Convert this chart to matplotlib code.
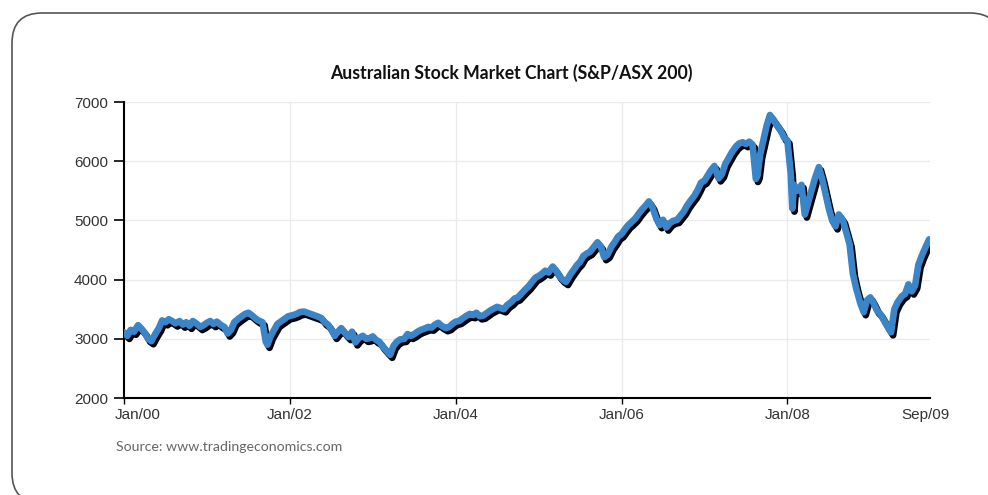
import matplotlib
matplotlib.use("Agg")
import matplotlib.pyplot as plt
import matplotlib.patheffects as pe
from matplotlib.patches import FancyBboxPatch
from matplotlib.transforms import ScaledTranslation

# ---- data (decimal year, index level) ----
years = [
    2000.00, 2000.04, 2000.08, 2000.12, 2000.17, 2000.21, 2000.25, 2000.29, 2000.33, 2000.38,
    2000.42, 2000.46, 2000.50, 2000.54, 2000.58, 2000.62, 2000.67, 2000.71, 2000.75, 2000.79,
    2000.83, 2000.88, 2000.92, 2000.96, 2001.00, 2001.04, 2001.08, 2001.12, 2001.17, 2001.21,
    2001.25, 2001.29, 2001.33, 2001.38, 2001.42, 2001.46, 2001.50, 2001.54, 2001.58, 2001.62,
    2001.67, 2001.71, 2001.73, 2001.77, 2001.81, 2001.85, 2001.90, 2001.94, 2001.98, 2002.04,
    2002.08, 2002.12, 2002.17, 2002.21, 2002.25, 2002.29, 2002.33, 2002.38, 2002.42, 2002.46,
    2002.50, 2002.54, 2002.58, 2002.62, 2002.67, 2002.71, 2002.75, 2002.79, 2002.83, 2002.88,
    2002.92, 2002.96, 2003.00, 2003.04, 2003.08, 2003.12, 2003.17, 2003.21, 2003.25, 2003.29,
    2003.33, 2003.38, 2003.42, 2003.46, 2003.50, 2003.54, 2003.58, 2003.62, 2003.67, 2003.71,
    2003.75, 2003.79, 2003.83, 2003.88, 2003.92, 2003.96, 2004.00, 2004.04, 2004.08, 2004.12,
    2004.17, 2004.21, 2004.25, 2004.29, 2004.33, 2004.38, 2004.42, 2004.46, 2004.50, 2004.54,
    2004.58, 2004.62, 2004.67, 2004.71, 2004.75, 2004.79, 2004.83, 2004.88, 2004.92, 2004.96,
    2005.00, 2005.04, 2005.08, 2005.12, 2005.17, 2005.21, 2005.25, 2005.29, 2005.33, 2005.38,
    2005.42, 2005.46, 2005.50, 2005.54, 2005.58, 2005.62, 2005.67, 2005.71, 2005.75, 2005.79,
    2005.83, 2005.88, 2005.92, 2005.96, 2006.00, 2006.04, 2006.08, 2006.12, 2006.17, 2006.21,
    2006.25, 2006.29, 2006.33, 2006.37, 2006.42, 2006.46, 2006.50, 2006.54, 2006.58, 2006.62,
    2006.67, 2006.71, 2006.75, 2006.79, 2006.83, 2006.88, 2006.92, 2006.96, 2007.00, 2007.04,
    2007.08, 2007.12, 2007.17, 2007.21, 2007.25, 2007.29, 2007.33, 2007.38, 2007.42, 2007.46,
    2007.50, 2007.54, 2007.58, 2007.62, 2007.64, 2007.67, 2007.71, 2007.75, 2007.79, 2007.83,
    2007.88, 2007.92, 2007.96, 2008.00, 2008.04, 2008.06, 2008.08, 2008.12, 2008.17, 2008.21,
    2008.25, 2008.29, 2008.33, 2008.38, 2008.42, 2008.46, 2008.50, 2008.54, 2008.58, 2008.62,
    2008.67, 2008.71, 2008.75, 2008.79, 2008.83, 2008.88, 2008.92, 2008.96, 2009.00, 2009.04,
    2009.08, 2009.12, 2009.17, 2009.21, 2009.25, 2009.29, 2009.33, 2009.38, 2009.42, 2009.46,
    2009.50, 2009.54, 2009.58, 2009.62, 2009.67, 2009.71,
]
values = [
    3110, 3050, 3150, 3120, 3230, 3170, 3100, 3000, 2960, 3090,
    3180, 3310, 3280, 3330, 3300, 3260, 3300, 3240, 3280, 3220,
    3300, 3250, 3200, 3230, 3270, 3300, 3250, 3290, 3230, 3200,
    3090, 3150, 3280, 3340, 3380, 3420, 3440, 3400, 3350, 3310,
    3280, 2950, 2900, 3050, 3150, 3250, 3300, 3340, 3380, 3400,
    3420, 3450, 3460, 3440, 3420, 3400, 3380, 3350, 3280, 3240,
    3160, 3050, 3120, 3180, 3090, 3030, 3120, 2940, 3010, 3050,
    3000, 3010, 3040, 2980, 2950, 2870, 2790, 2730, 2880, 2950,
    2990, 3000, 3080, 3050, 3080, 3120, 3150, 3170, 3200, 3190,
    3240, 3270, 3220, 3180, 3200, 3250, 3290, 3300, 3340, 3380,
    3420, 3400, 3440, 3380, 3390, 3440, 3480, 3510, 3540, 3520,
    3500, 3570, 3620, 3680, 3700, 3760, 3820, 3890, 3960, 4030,
    4060, 4100, 4150, 4120, 4220, 4150, 4060, 4000, 3960, 4080,
    4160, 4240, 4300, 4400, 4440, 4470, 4560, 4630, 4560, 4380,
    4420, 4560, 4640, 4730, 4770, 4850, 4920, 4970, 5040, 5120,
    5190, 5250, 5320, 5230, 5030, 4920, 5010, 4880, 4950, 4990,
    5010, 5080, 5150, 5250, 5330, 5420, 5520, 5640, 5670, 5760,
    5850, 5920, 5710, 5780, 5950, 6050, 6150, 6250, 6300, 6320,
    6290, 6330, 6280, 5700, 5760, 6100, 6350, 6600, 6780, 6700,
    6600, 6520, 6400, 6350, 5800, 5200, 5600, 5500, 5600, 5100,
    5300, 5500, 5700, 5900, 5700, 5450, 5200, 5000, 4900, 5100,
    5000, 4800, 4600, 4100, 3850, 3600, 3450, 3650, 3700, 3600,
    3480, 3420, 3300, 3200, 3110, 3500, 3620, 3720, 3760, 3920,
    3800, 3900, 4250, 4400, 4560, 4680,
]

x_ticks = [2000.0, 2002.0, 2004.0, 2006.0, 2008.0, 2009.67]
x_tick_labels = ["Jan/00", "Jan/02", "Jan/04", "Jan/06", "Jan/08", "Sep/09"]
y_ticks = [2000, 3000, 4000, 5000, 6000, 7000]

title = "Australian Stock Market Chart (S&P/ASX 200)"
source = "Source: www.tradingeconomics.com"

W, H = 988, 495
fig = plt.figure(figsize=(W / 100, H / 100), dpi=100)
fig.patch.set_facecolor("white")

# background frame (pixel coordinates)
bg = fig.add_axes([0, 0, 1, 1], zorder=-1)
bg.set_xlim(0, W)
bg.set_ylim(H, 0)
bg.axis("off")
frame = FancyBboxPatch((12, 13), 988, 490, boxstyle="round,pad=0,rounding_size=30",
                       facecolor="white", edgecolor="#555555", linewidth=1.2, clip_on=False)
bg.add_patch(frame)

ax = fig.add_axes([124 / W, (H - 398) / H, 806 / W, 296 / H])
ax.set_facecolor("none")

# grid
for yv in y_ticks[1:]:
    ax.axhline(yv, color="#ebebeb", lw=1.0, zorder=0)
for xv in x_ticks[1:-1]:
    ax.axvline(xv, color="#ebebeb", lw=1.0, zorder=0)

ax.plot(years, values, color="#3a85c8", lw=4.8, solid_joinstyle="round",
        solid_capstyle="round", zorder=3,
        path_effects=[pe.SimpleLineShadow(offset=(1.5, -2.2), shadow_color="black", alpha=1.0),
                      pe.Normal()])

ax.set_xlim(2000.0, 2009.72)
ax.set_ylim(2000, 7000)

for s in ["top", "right"]:
    ax.spines[s].set_visible(False)
for s in ["left", "bottom"]:
    ax.spines[s].set_color("black")
    ax.spines[s].set_linewidth(1.5)

ax.set_yticks(y_ticks)
ax.set_yticklabels([str(v) for v in y_ticks], fontsize=11, color="#333333",
                   family="Liberation Sans")
ax.set_xticks(x_ticks)
ax.set_xticklabels(x_tick_labels, fontsize=11, color="#333333", family="Liberation Sans")
ax.tick_params(axis="y", direction="out", length=7.5, width=1.2, pad=4, color="black")
ax.tick_params(axis="x", direction="out", length=4.5, width=1.0, pad=3, color="black")
xt = ax.xaxis.get_major_ticks()
xt[-1].tick1line.set_visible(False)
lab0 = ax.get_xticklabels()[0]
lab0.set_transform(lab0.get_transform() + ScaledTranslation(14 / 100, 0, fig.dpi_scale_trans))

fig.text(511 / W, 1 - 73 / H, title, ha="center", va="center", fontsize=12.7,
         fontweight="bold", family="Lato", color="#111111")
fig.text(116 / W, 1 - 447 / H, source, ha="left", va="center", fontsize=10.2,
         family="Lato", color="#666666")

fig.savefig("out.png", dpi=100, facecolor="white")
